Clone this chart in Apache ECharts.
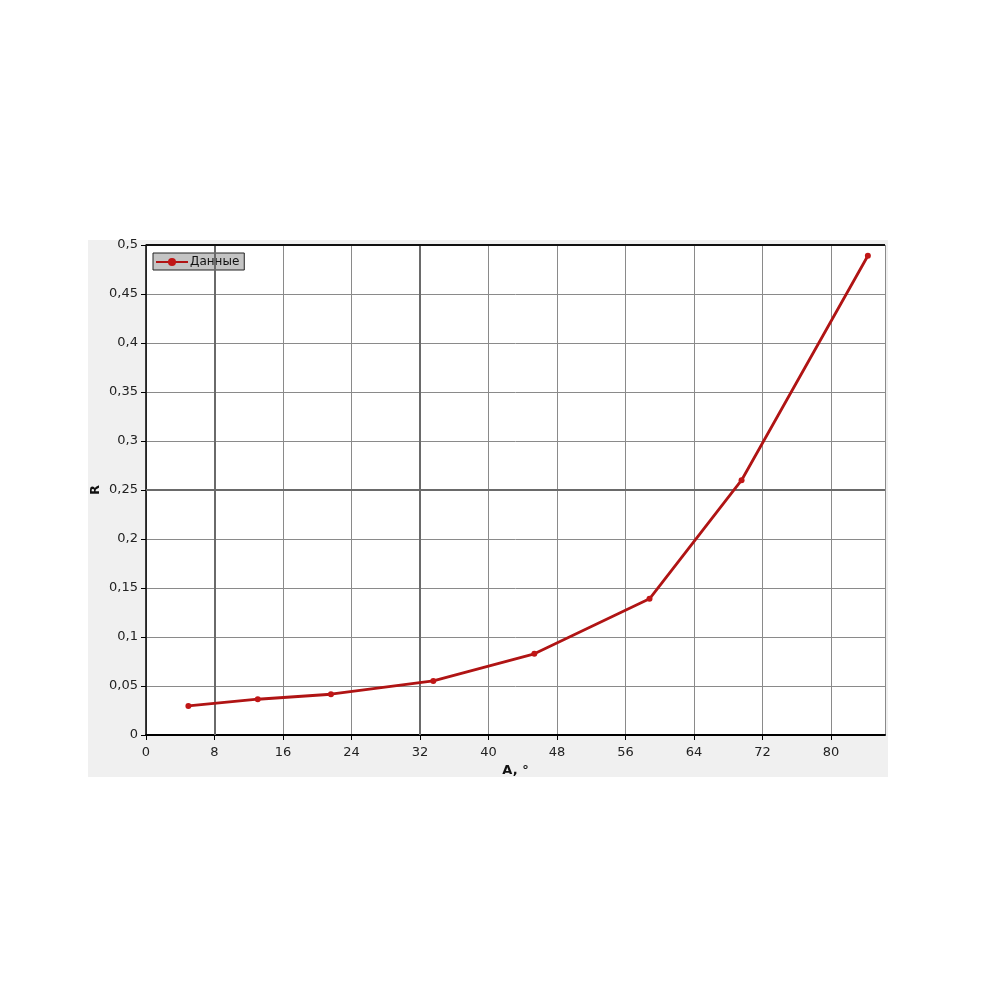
<!DOCTYPE html>
<html>
<head>
<meta charset="utf-8">
<script src="https://cdn.jsdelivr.net/npm/echarts@6/dist/echarts.min.js"></script>
<style>
html,body{margin:0;padding:0;background:#fff;}
#panel{position:absolute;left:88px;top:240px;width:800px;height:537px;background:#f0f0f0;}
#chart{position:absolute;left:0;top:0;width:1000px;height:1000px;}
</style>
</head>
<body>
<div id="panel"></div>
<div id="chart"></div>
<script>
// Data
const angleA = [4.95, 13.05, 21.6, 33.55, 45.35, 58.8, 69.55, 84.3];
const valueR = [0.0297, 0.0365, 0.0416, 0.0552, 0.0828, 0.139, 0.26, 0.489];
const seriesName = 'Данные';
const xAxisName = 'A, °';
const yAxisName = 'R';
const emphasisX = [8, 32];
const emphasisY = [0.25];
const topY = 0.5;

const points = angleA.map((a, i) => [a, valueR[i]]);
const fmt = v => String(+v.toFixed(2)).replace('.', ',');

const chart = echarts.init(document.getElementById('chart'), null, {renderer: 'canvas'});
chart.setOption({
  backgroundColor: 'transparent',
  animation: false,
  textStyle: {fontFamily: 'DejaVu Sans'},
  grid: {left: 146, right: 115, top: 245, bottom: 265, show: true, backgroundColor: '#ffffff', borderWidth: 0},
  legend: {
    left: 153, top: 253,
    data: [seriesName],
    backgroundColor: '#c4c4c4',
    borderColor: '#222',
    borderWidth: 1,
    borderRadius: 0,
    padding: [3, 5, 2, 2],
    itemWidth: 32, itemHeight: 10, itemGap: 2,
    textStyle: {fontSize: 12, color: '#111', fontFamily: 'DejaVu Sans', padding: [0, 0, 0, -3]}
  },
  xAxis: {
    type: 'value', min: 0, max: 86.3, interval: 8,
    name: xAxisName, nameLocation: 'middle', nameGap: 29, nameMoveOverlap: false,
    nameTextStyle: {fontSize: 13, fontWeight: 'bold', color: '#111'},
    axisLine: {show: true, onZero: false, lineStyle: {color: '#000', width: 2}},
    axisTick: {show: true, length: 5, lineStyle: {color: '#000'}},
    axisLabel: {fontSize: 13, color: '#222', margin: 11, showMaxLabel: false, formatter: v => (v % 8 === 0 ? String(v) : '')},
    splitLine: {show: true, lineStyle: {color: '#8a8a8a', width: 1}}
  },
  yAxis: {
    type: 'value', min: 0, max: 0.5, interval: 0.05,
    name: yAxisName, nameLocation: 'middle', nameGap: 44, nameMoveOverlap: false,
    nameTextStyle: {fontSize: 13, fontWeight: 'bold', color: '#111'},
    axisLine: {show: true, onZero: false, lineStyle: {color: '#000', width: 1.5}},
    axisTick: {show: true, length: 5, lineStyle: {color: '#000'}},
    axisLabel: {fontSize: 13, color: '#222', margin: 8, formatter: fmt},
    splitLine: {show: true, lineStyle: {color: '#8a8a8a', width: 1}}
  },
  series: [{
    name: seriesName,
    type: 'line',
    data: points,
    symbol: 'circle',
    symbolSize: 6,
    itemStyle: {color: '#c01616'},
    lineStyle: {color: '#b01414', width: 2.8},
    markLine: {
      silent: true, symbol: 'none', animation: false,
      label: {show: false},
      data: [
        ...emphasisX.map(v => ({xAxis: v, lineStyle: {color: '#6a6a6a', width: 2, type: 'solid'}})),
        ...emphasisY.map(v => ({yAxis: v, lineStyle: {color: '#6a6a6a', width: 2, type: 'solid'}})),
        {yAxis: topY, lineStyle: {color: '#111', width: 2, type: 'solid'}}
      ]
    },
    z: 5
  }]
});
</script>
</body>
</html>
